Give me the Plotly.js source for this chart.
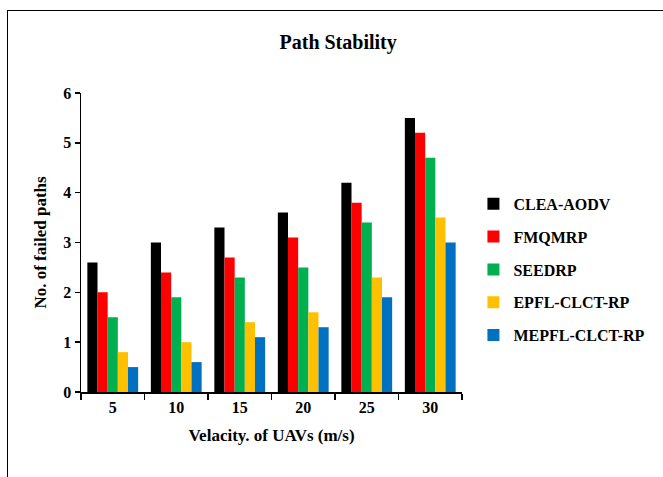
<!DOCTYPE html>
<html>
<head>
<meta charset="utf-8">
<script src="https://cdn.plot.ly/plotly-3.0.1.min.js"></script>
<style>
html,body{margin:0;padding:0;background:#fff;}
#chart{width:663px;height:477px;position:relative;}
#frame{position:absolute;left:7px;top:10px;width:660px;height:470px;border-left:1.5px solid #000;border-top:1.5px solid #000;pointer-events:none;z-index:10;}
</style>
</head>
<body>
<div id="chart"></div>
<div id="frame"></div>
<script>
const categories = ['5', '10', '15', '20', '25', '30'];
const seriesNames = ['CLEA-AODV', 'FMQMRP', 'SEEDRP', 'EPFL-CLCT-RP', 'MEPFL-CLCT-RP'];
const cleaAodv = [2.6, 3.0, 3.3, 3.6, 4.2, 5.5];
const fmqmrp = [2.0, 2.4, 2.7, 3.1, 3.8, 5.2];
const seedrp = [1.5, 1.9, 2.3, 2.5, 3.4, 4.7];
const epflClctRp = [0.8, 1.0, 1.4, 1.6, 2.3, 3.5];
const mepflClctRp = [0.5, 0.6, 1.1, 1.3, 1.9, 3.0];
const colors = ['#000000', '#FF0000', '#00B050', '#FFC000', '#0070C0'];
const allValues = [cleaAodv, fmqmrp, seedrp, epflClctRp, mepflClctRp];

const font = 'Liberation Serif, Times New Roman, serif';

const traces = allValues.map((vals, i) => ({
  type: 'bar',
  name: '<b>' + seriesNames[i] + '</b>',
  x: categories,
  y: vals,
  marker: {color: colors[i]},
  legendgroup: 'g' + i
}));

const layout = {
  width: 663,
  height: 477,
  margin: {l: 81, r: 201, t: 93, b: 85},
  paper_bgcolor: '#fff',
  plot_bgcolor: '#fff',
  font: {family: font, color: '#000', size: 16},
  title: {
    text: '<b>Path Stability</b>',
    font: {family: font, size: 20, color: '#000'},
    x: 0.51, xanchor: 'center',
    y: 0.912, yanchor: 'middle'
  },
  barmode: 'group',
  bargap: 0.2,
  bargroupgap: 0,
  xaxis: {
    type: 'category',
    showline: true, linecolor: '#000', linewidth: 1.5,
    ticks: 'outside', ticklen: 6, tickcolor: '#000', tickwidth: 1.5,
    tickson: 'boundaries',
    showgrid: false,
    tickfont: {family: font, size: 16, color: '#000'},
    tickprefix: '<b>', ticksuffix: '</b>',
    title: {text: '<b>Velacity. of UAVs (m/s)</b>', font: {family: font, size: 17, color: '#000'}, standoff: 14}
  },
  yaxis: {
    range: [0, 6], dtick: 1,
    showline: true, linecolor: '#000', linewidth: 1.5,
    ticks: 'outside', ticklen: 5, tickcolor: '#000', tickwidth: 1.5,
    showgrid: false, zeroline: false,
    tickfont: {family: font, size: 16, color: '#000'},
    tickprefix: '<b>', ticksuffix: '</b>',
    title: {text: '<b>No. of failed paths</b>', font: {family: font, size: 17, color: '#000'}, standoff: 12}
  },
  legend: {
    x: 1.03, xanchor: 'left',
    y: 0.41, yanchor: 'middle',
    font: {family: font, size: 16, color: '#000'},
    tracegroupgap: 9,
    bgcolor: 'rgba(0,0,0,0)'
  },
  showlegend: true
};

Plotly.newPlot('chart', traces, layout, {displayModeBar: false, staticPlot: true});
</script>
</body>
</html>
